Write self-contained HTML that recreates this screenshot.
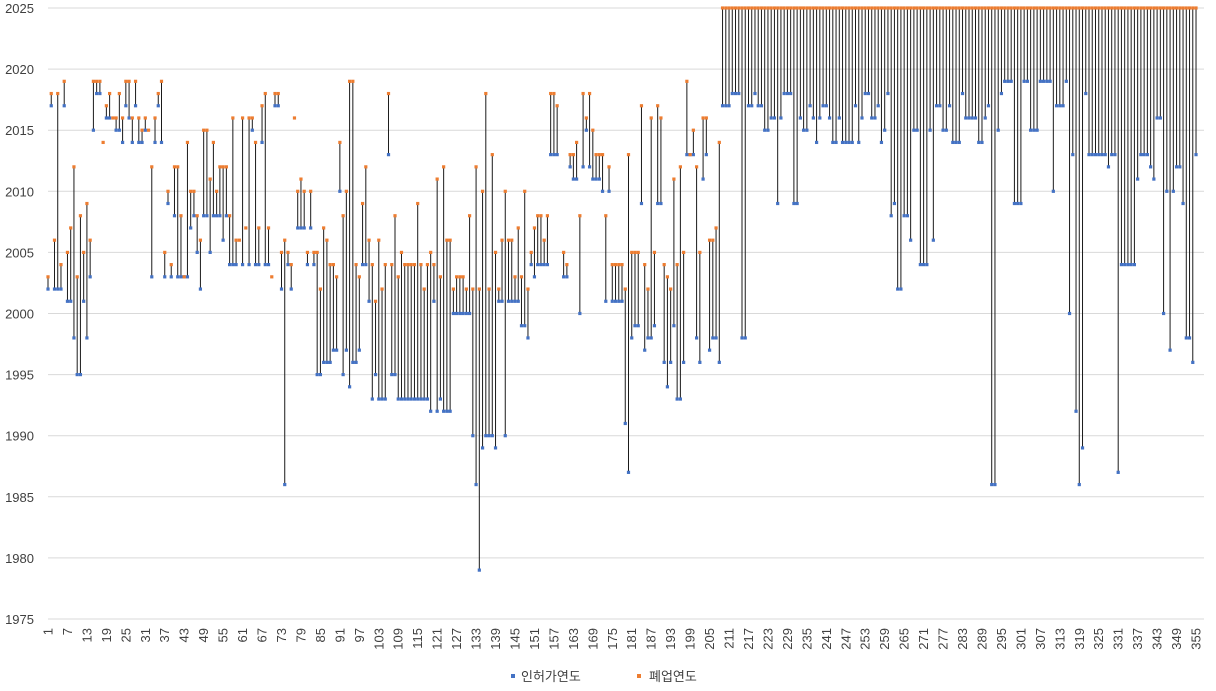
<!DOCTYPE html>
<html><head><meta charset="utf-8"><style>
html,body{margin:0;padding:0;background:#fff;}
svg{display:block;font-family:"Liberation Sans","Noto Sans CJK KR",sans-serif;}
</style></head><body>
<svg id="c" width="1216" height="691" xmlns="http://www.w3.org/2000/svg"></svg>
<script>
var L=[[2002,2003],[2017,2018],[2002,2006],[2002,2018],[2002,2004],[2017,2019],[2001,2005],[2001,2007],[1998,2012],[1995,2003],[1995,2008],[2001,2005],[1998,2009],[2003,2006],[2015,2019],[2018,2019],[2018,2019],[null,2014],[2016,2017],[2016,2018],[null,2016],[2015,2016],[2015,2018],[2014,2016],[2017,2019],[2016,2019],[2014,2016],[2017,2019],[2014,2016],[2014,2015],[2015,2016],[null,2015],[2003,2012],[2014,2016],[2017,2018],[2014,2019],[2003,2005],[2009,2010],[2003,2004],[2008,2012],[2003,2012],[2003,2008],[2003,2003],[2003,2014],[2007,2010],[2008,2010],[2005,2008],[2002,2006],[2008,2015],[2008,2015],[2005,2011],[2008,2014],[2008,2010],[2008,2012],[2006,2012],[2008,2012],[2004,2008],[2004,2016],[2004,2006],[null,2006],[2004,2016],[null,2007],[2004,2016],[2015,2016],[2004,2014],[2004,2007],[2014,2017],[2004,2018],[2004,2007],[null,2003],[2017,2018],[2017,2018],[2002,2005],[1986,2006],[2004,2005],[2002,2004],[null,2016],[2007,2010],[2007,2011],[2007,2010],[2004,2005],[2007,2010],[2004,2005],[1995,2005],[1995,2002],[1996,2007],[1996,2006],[1996,2004],[1997,2004],[1997,2003],[2010,2014],[1995,2008],[1997,2010],[1994,2019],[1996,2019],[1996,2004],[1997,2003],[2004,2009],[2004,2012],[2001,2006],[1993,2004],[1995,2001],[1993,2006],[1993,2002],[1993,2004],[2013,2018],[1995,2004],[1995,2008],[1993,2003],[1993,2005],[1993,2004],[1993,2004],[1993,2004],[1993,2004],[1993,2009],[1993,2004],[1993,2002],[1993,2004],[1992,2005],[2001,2004],[1992,2011],[1993,2003],[1992,2012],[1992,2006],[1992,2006],[2000,2002],[2000,2003],[2000,2003],[2000,2003],[2000,2002],[2000,2008],[1990,2002],[1986,2012],[1979,2002],[1989,2010],[1990,2018],[1990,2002],[1990,2013],[1989,2005],[2001,2002],[2001,2006],[1990,2010],[2001,2006],[2001,2006],[2001,2003],[2001,2007],[1999,2003],[1999,2010],[1998,2002],[2004,2005],[2003,2007],[2004,2008],[2004,2008],[2004,2006],[2004,2008],[2013,2018],[2013,2018],[2013,2017],[null,null],[2003,2005],[2003,2004],[2012,2013],[2011,2013],[2011,2014],[2000,2008],[2012,2018],[2015,2016],[2012,2018],[2011,2015],[2011,2013],[2011,2013],[2010,2013],[2001,2008],[2010,2012],[2001,2004],[2001,2004],[2001,2004],[2001,2004],[1991,2002],[1987,2013],[1998,2005],[1999,2005],[1999,2005],[2009,2017],[1997,2004],[1998,2002],[1998,2016],[1999,2005],[2009,2017],[2009,2016],[1996,2004],[1994,2003],[1996,2002],[1999,2011],[1993,2004],[1993,2012],[1996,2005],[2013,2019],[2013,2013],[2013,2015],[1998,2012],[1996,2005],[2011,2016],[2013,2016],[1997,2006],[1998,2006],[1998,2007],[1996,2014]];
var R=[[725,2017],[738,2018],[745,1998],[750,2017],[755,2018],[760,2017],[765,2015],[770,2015],[772,2016],[777,2009],[780,2016],[785,2018],[790,2018],[797,2009],[800,2016],[805,2015],[810,2017],[813,2016],[818,2014],[820,2016],[825,2017],[828,2017],[830,2016],[835,2014],[840,2016],[845,2014],[848,2015],[850,2014],[855,2017],[858,2014],[862,2016],[868,2018],[872,2016],[878,2017],[880,2014],[885,2015],[888,2018],[890,2008],[895,2009],[897,2002],[900,2002],[905,2008],[910,2006],[913,2015],[918,2015],[922,2004],[925,2004],[930,2015],[935,2006],[938,2017],[942,2015],[945,2015],[950,2017],[955,2014],[958,2014],[962,2018],[966,2016],[970,2016],[975,2016],[980,2014],[985,2016],[988,2017],[993,1986],[997,2015],[1000,2018],[1005,2019],[1010,2019],[1015,2009],[1020,2009],[1025,2019],[1030,2015],[1035,2015],[1040,2019],[1045,2019],[1050,2019],[1053,2010],[1055,1994],[1058,2017],[1062,2017],[1066,2019],[1070,2000],[1073,2013],[1076,1992],[1079,1986],[1082,1989],[1085,2018],[1090,2013],[1095,2013],[1100,2013],[1105,2013],[1108,2012],[1112,2013],[1116,2013],[1119,1987],[1122,2004],[1126,2004],[1130,2004],[1134,2004],[1137,2011],[1140,2013],[1145,2013],[1150,2012],[1154,2011],[1158,2016],[1160,2016],[1163,2000],[1166,2010],[1170,1997],[1172,2010],[1176,2012],[1180,2012],[1183,2009],[1186,1998],[1189,1998],[1192,1996],[1196,2013]];
function X(i){return 48+(i-1)*3.243;}
function Y(v){return 8+(2025-v)*12.22;}
var s='';
for(var v=1975;v<=2025;v+=5){var y=Y(v);s+='<line x1="48" x2="1204" y1="'+y+'" y2="'+y+'" stroke="#d9d9d9" stroke-width="1"/>';s+='<text x="34" y="'+(y+5)+'" font-size="13" text-anchor="end" fill="#404040">'+v+'</text>';}
var data=[];
for(var i=1;i<=355;i++){
 if(i<=L.length){data.push(L[i-1]);}
 else{var x=X(i),b=R[0],d=1e9;for(var k=0;k<R.length;k++){var dd=Math.abs(R[k][0]-x);if(dd<d){d=dd;b=R[k];}}data.push([b[1],2025]);}
}
var lines='',bl='',or='';
for(var i=1;i<=355;i++){var p=data[i-1],x=X(i);
 if(p[0]!=null&&p[1]!=null)lines+='<line x1="'+x+'" x2="'+x+'" y1="'+Y(p[0])+'" y2="'+Y(p[1])+'" stroke="#1a1a1a" stroke-width="1"/>';
 if(p[0]!=null)bl+='<rect x="'+(x-1.6)+'" y="'+(Y(p[0])-1.6)+'" width="3.2" height="3.2" fill="#4472C4"/>';
 if(p[1]!=null)or+='<rect x="'+(x-1.6)+'" y="'+(Y(p[1])-1.6)+'" width="3.2" height="3.2" fill="#ED7D31"/>';
}
s+=lines+bl+or;
for(var i=1;i<=355;i+=6){var x=X(i)+4.5;s+='<text transform="translate('+x+',628) rotate(-90)" font-size="13" text-anchor="end" fill="#404040">'+i+'</text>';}
s+='<rect x="511" y="674" width="4" height="4" fill="#4472C4"/><text x="521" y="681" font-size="13" fill="#404040">인허가연도</text>';
s+='<rect x="637" y="674" width="4" height="4" fill="#ED7D31"/><text x="649" y="681" font-size="13" fill="#404040">폐업연도</text>';
document.getElementById('c').innerHTML=s;
</script>
</body></html>
